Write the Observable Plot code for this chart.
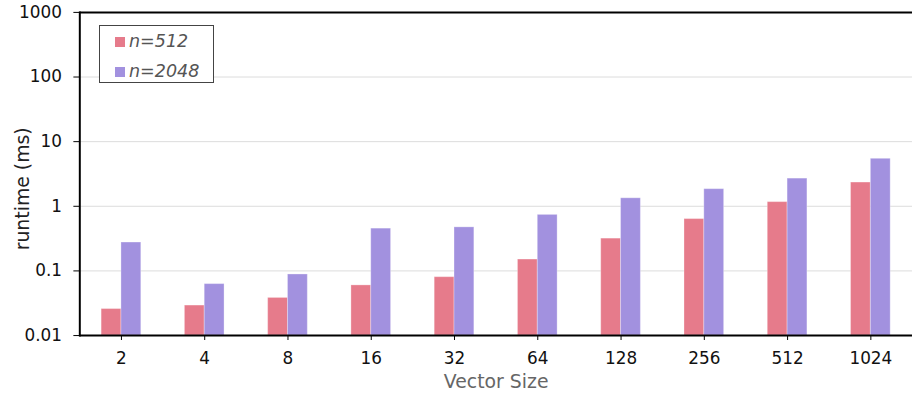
<!DOCTYPE html>
<html>
<head>
<meta charset="utf-8">
<script src="https://cdn.jsdelivr.net/npm/d3@7"></script>
<script src="https://cdn.jsdelivr.net/npm/@observablehq/plot@0.6"></script>
<style>
  html, body { margin: 0; padding: 0; background: #fff; overflow: hidden; }
  #chart { position: relative; width: 912px; height: 405px; overflow: hidden; }
  #chart svg { display: block; }
  .legend {
    position: absolute; left: 99px; top: 25px; width: 113px; height: 56px;
    border: 1px solid #444; background: #fff; box-sizing: content-box;
    font: italic 17.5px "DejaVu Sans", sans-serif; color: #555;
  }
  .legend .item { position: absolute; left: 15px; height: 20px; line-height: 20px; white-space: nowrap; }
  .legend .swatch { display: inline-block; width: 10px; height: 10px; margin-right: 4px; vertical-align: 0px; }
</style>
</head>
<body>
<div id="chart"></div>
<script>
// Vector sizes along the x axis
const sizes = ["2", "4", "8", "16", "32", "64", "128", "256", "512", "1024"];
// Runtime in milliseconds for each problem size
const runtime512  = [0.0257, 0.0291, 0.0382, 0.0597, 0.080, 0.150, 0.316, 0.634, 1.16, 2.33];
const runtime2048 = [0.275, 0.0625, 0.0881, 0.451, 0.472, 0.736, 1.33, 1.84, 2.68, 5.43];
const seriesNames = ["n=512", "n=2048"];
const seriesColors = ["#e67b8b", "#a291df"];
const yTicks = [0.01, 0.1, 1, 10, 100, 1000];
const yTickLabels = ["0.01", "0.1", "1", "10", "100", "1000"];
const xTitle = "Vector Size";
const yTitle = "runtime (ms)";

const rows512 = sizes.map((size, i) => ({size, value: runtime512[i]}));
const rows2048 = sizes.map((size, i) => ({size, value: runtime2048[i]}));

const plot = Plot.plot({
  width: 920,
  height: 405,
  marginLeft: 80,
  marginRight: 0,
  marginTop: 12,
  marginBottom: 67,
  style: {fontFamily: "'DejaVu Sans', sans-serif", fontSize: "17px", color: "#111", background: "#fff"},
  x: {type: "band", domain: sizes, padding: 0},
  y: {type: "log", domain: [0.01, 1000]},
  marks: [
    Plot.ruleY(yTicks.slice(1, -1), {stroke: "#dcdcdc", strokeWidth: 1}),
    Plot.barY(rows512, {x: "size", y1: 0.01, y2: "value", fill: seriesColors[0],
      stroke: "#fff", strokeOpacity: 0.3, insetLeft: 22, insetRight: 42}),
    Plot.barY(rows2048, {x: "size", y1: 0.01, y2: "value", fill: seriesColors[1],
      stroke: "#fff", strokeOpacity: 0.3, insetLeft: 42, insetRight: 22}),
    Plot.axisX({tickSize: 5, tickPadding: 12, label: null, fontSize: 17, stroke: "#000", fill: "#111"}),
    Plot.axisY({ticks: yTicks, tickFormat: d => yTickLabels[yTicks.indexOf(d)],
      tickSize: 6, tickPadding: 12, label: null, fontSize: 17, stroke: "#000", fill: "#111"}),
    Plot.ruleY([0.01], {stroke: "#000", strokeWidth: 2}),
    Plot.ruleY([1000], {stroke: "#000", strokeWidth: 2}),
    Plot.frame({anchor: "left", stroke: "#000", strokeWidth: 2}),
    Plot.text([xTitle], {frameAnchor: "bottom", textAnchor: "middle", dy: 52.8, fill: "#666", fontSize: 19}),
    Plot.text([yTitle], {frameAnchor: "left", textAnchor: "middle", rotate: -90, dx: -57.6, dy: 15, fill: "#222", fontSize: 19})
  ]
});

const chart = document.getElementById("chart");
chart.appendChild(plot);

// Series key in the upper-left corner of the plot area
const legend = d3.select(chart).append("div").attr("class", "legend");
seriesNames.forEach((name, i) => {
  const item = legend.append("div").attr("class", "item").style("top", `${5 + i * 30}px`);
  item.append("span").attr("class", "swatch").style("background", seriesColors[i]);
  item.append("span").text(name);
});
</script>
</body>
</html>
